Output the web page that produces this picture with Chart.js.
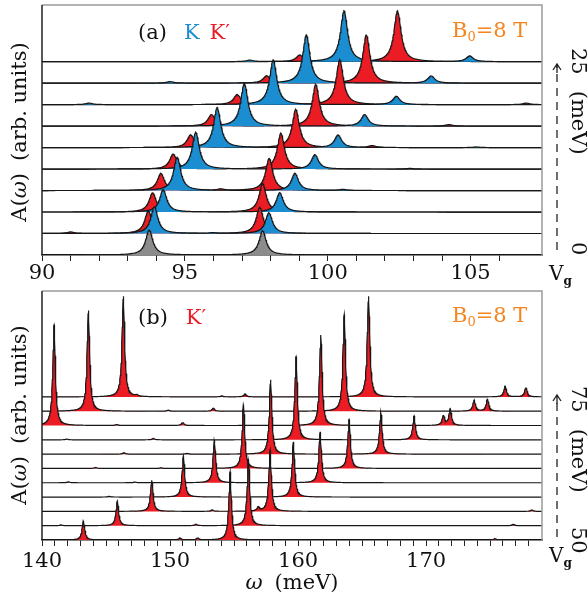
<!DOCTYPE html>
<html>
<head>
<meta charset="utf-8">
<script src="https://cdn.jsdelivr.net/npm/chart.js@4.4.0/dist/chart.umd.min.js"></script>
<style>
    html, body { margin: 0; padding: 0; background: #fff; }
    #wrap { position: relative; width: 588px; height: 601px; }
    #wrap canvas { position: absolute; left: 0; }
</style>
</head>
<body>
<div id="wrap">
    <canvas id="chart-a" width="588" height="290" style="top:0"></canvas>
    <canvas id="chart-b" width="588" height="316" style="top:285px"></canvas>
</div>
<script>
// ---- panel (a): rows from Vg = 0 (bottom) to Vg = 25 meV (top) ----
const rangeA = [90, 107.5];
const grayPos = [93.75, 97.72];            // Vg = 0, K and K' degenerate
const grayAmp = [1.16, 1.12];
const kPos = [
    [], [93.93, 97.94, 95.98], [94.24, 98.32], [94.73, 98.85, 100.53], [95.38, 99.55, 102.87],
    [96.13, 100.36, 105.2], [97.08, 101.29], [98.09, 102.4, 91.65], [99.25, 103.62, 94.48], [100.57, 104.97, 97.27]
];
const kAmp = [
    [], [1.24, 0.96, 0.03], [1.04, 0.90], [1.55, 0.80, 0.05], [1.71, 0.67, 0.03],
    [1.87, 0.59, 0.03], [2.0, 0.54], [2.09, 0.39, 0.07], [2.25, 0.34, 0.07], [2.37, 0.27, 0.07]
];
const kpPos = [
    [], [93.72, 97.62, 91.0], [93.87, 97.72], [94.16, 97.95, 96.25], [94.59, 98.36],
    [95.2, 98.88, 101.56], [95.93, 99.58, 104.24], [96.83, 100.42, 106.95], [97.86, 101.35], [99.02, 102.44]
];
const kpAmp = [
    [], [1.06, 1.21, 0.07], [0.90, 1.32], [0.80, 1.50, 0.07], [0.70, 1.67],
    [0.59, 1.78, 0.09], [0.54, 1.94, 0.07], [0.47, 2.09, 0.07], [0.34, 2.25], [0.31, 2.37]
];

// ---- panel (b): K' only, rows from Vg = 50 (bottom) to Vg = 75 meV (top) ----
const rangeB = [140, 179.05];
const bPos = [
    [143.23, 154.69, 150.78, 152.16, 175.39],
    [145.88, 156.12, 152.03, 176.82, 141.48],
    [148.57, 157.81, 153.3, 156.9, 178.26],
    [151.04, 159.63, 145.26],
    [153.46, 161.72, 142.06, 147.27],
    [155.73, 163.98, 144.19, 149.3],
    [157.85, 166.46, 146.4, 151.35],
    [159.84, 169.06, 141.93, 148.7],
    [140.94, 161.77, 171.35, 171.88, 145.83, 150.99],
    [143.62, 163.6, 173.75, 174.79, 149.87, 153.38],
    [146.35, 165.5, 176.17, 177.79, 147.4, 154.04, 155.86]
];
const bAmp = [
    [1.35, 4.77, 0.14, 0.14, 0.1],
    [1.72, 4.63, 0.1, 0.1, 0.05],
    [2.18, 4.28, 0.1, 0.28, 0.1],
    [2.86, 3.86, 0.05],
    [2.98, 3.56, 0.07, 0.05],
    [4.45, 3.42, 0.07, 0.05],
    [5.19, 2.9, 0.1, 0.05],
    [5.81, 1.67, 0.05, 0.1],
    [7.03, 6.33, 0.68, 1.14, 0.07, 0.21],
    [7.03, 6.75, 0.77, 0.84, 0.07, 0.21],
    [7.03, 7.03, 0.75, 0.65, 0.1, 0.07, 0.21]
];

const RED = '#ec1c24', BLUE = '#1b8ed1', GRAY = '#8c8c8c', ORANGE = '#f5861f';
const SERIF = '"DejaVu Serif", serif';

function omegaGrid(lo, hi, step, peaks) {
    const xs = [];
    for (let x = lo; x <= hi + 1e-9; x += step) xs.push(+x.toFixed(4));
    peaks.forEach(p => xs.push(p));
    return xs.sort((a, b) => a - b);
}

// sum of Lorentzians sitting on the row baseline
function spectrum(xs, pos, amp, gam, base) {
    return xs.map(x => {
        let y = base;
        pos.forEach((p, i) => {
            const d = x - p;
            y += amp[i] * gam * gam / (d * d + gam * gam);
        });
        return { x: x, y: y };
    });
}

function trace(xs, pos, amp, gam, base, color) {
    return {
        data: spectrum(xs, pos, amp, gam, base),
        backgroundColor: color,
        fill: { value: base },
        borderColor: '#161616',
        borderWidth: 1.2,
        pointRadius: 0,
        tension: 0
    };
}

// lower rows first so they are drawn on top
const dataA = [];
for (let r = 0; r < kPos.length; r++) {
    if (r === 0) {
        dataA.push(trace(omegaGrid(rangeA[0], rangeA[1], 0.02, grayPos), grayPos, grayAmp, 0.15, 0, GRAY));
        continue;
    }
    dataA.push(trace(omegaGrid(rangeA[0], rangeA[1], 0.02, kPos[r]), kPos[r], kAmp[r], 0.15, r, BLUE));
    dataA.push(trace(omegaGrid(rangeA[0], rangeA[1], 0.02, kpPos[r]), kpPos[r], kpAmp[r], 0.15, r, RED));
}
const dataB = bPos.map((pos, r) =>
    trace(omegaGrid(rangeB[0], rangeB[1], 0.03, pos), pos, bAmp[r], 0.12, r, RED));

function drawParts(ctx, parts, x, y) {
    parts.forEach(p => {
        ctx.font = p.font;
        ctx.fillStyle = p.color || '#111';
        ctx.fillText(p.t, x, y + (p.dy || 0));
        x += ctx.measureText(p.t).width + (p.gap || 0);
    });
}

function rotated(ctx, parts, cx, cy, angle, align) {
    ctx.save();
    ctx.translate(cx, cy);
    ctx.rotate(angle);
    let w = 0;
    parts.forEach(p => { ctx.font = p.font; w += ctx.measureText(p.t).width + (p.gap || 0); });
    ctx.textBaseline = 'middle';
    drawParts(ctx, parts, align === 'center' ? -w / 2 : 0, 0);
    ctx.restore();
}

function frame(chart) {
    const { ctx, chartArea: a } = chart;
    ctx.save();
    ctx.lineWidth = 1.5;
    ctx.strokeStyle = '#9a9a9a';
    ctx.beginPath();
    ctx.moveTo(a.left, a.top); ctx.lineTo(a.right, a.top); ctx.lineTo(a.right, a.bottom);
    ctx.stroke();
    ctx.strokeStyle = '#222';
    ctx.beginPath();
    ctx.moveTo(a.left, a.top); ctx.lineTo(a.left, a.bottom);
    ctx.stroke();
    ctx.restore();
}

function vgAxis(ctx, x, yTop, yBot) {
    ctx.save();
    ctx.strokeStyle = '#222';
    ctx.lineWidth = 1.3;
    ctx.setLineDash([8, 6]);
    ctx.beginPath(); ctx.moveTo(x, yBot); ctx.lineTo(x, yTop + 2); ctx.stroke();
    ctx.setLineDash([]);
    ctx.beginPath();
    ctx.moveTo(x - 4, yTop + 6); ctx.lineTo(x, yTop); ctx.lineTo(x + 4, yTop + 6);
    ctx.moveTo(x, yTop); ctx.lineTo(x, yTop + 9);
    ctx.stroke();
    ctx.restore();
}

const f21 = '21px ' + SERIF, f21i = 'italic 21px ' + SERIF, f13 = '13px ' + SERIF;
const yTitle = [
    { t: 'A(', font: f21 }, { t: 'ω', font: f21i }, { t: ')', font: f21, gap: 12 },
    { t: '(arb. units)', font: f21 }
];
const bField = [
    { t: 'B', font: f21, color: ORANGE }, { t: '0', font: f13, color: ORANGE, dy: 4 },
    { t: '=8 T', font: f21, color: ORANGE }
];
const vgLabel = [{ t: 'V', font: '20px ' + SERIF }, { t: 'g', font: 'bold 12px ' + SERIF, dy: 5 }];

const decorA = {
    id: 'decorA',
    afterDraw(chart) {
        const ctx = chart.ctx;
        frame(chart);
        ctx.save();
        ctx.textBaseline = 'alphabetic';
        drawParts(ctx, [{ t: '(a)', font: f21, gap: 17 }, { t: 'K', font: f21, color: BLUE, gap: 10 },
            { t: 'K′', font: f21, color: RED }], 138, 39);
        drawParts(ctx, bField, 452, 37);
        drawParts(ctx, vgLabel, 549, 280);
        ctx.restore();
        rotated(ctx, yTitle, 21, 132, -Math.PI / 2, 'center');
        rotated(ctx, [{ t: '25', font: f21, gap: 16 }, { t: '(meV)', font: f21 }], 577, 48, Math.PI / 2, 'start');
        rotated(ctx, [{ t: '0', font: f21 }], 577, 242, Math.PI / 2, 'start');
        vgAxis(ctx, 557, 64, 250);
    }
};

const decorB = {
    id: 'decorB',
    afterDraw(chart) {
        const ctx = chart.ctx;
        frame(chart);
        ctx.save();
        ctx.textBaseline = 'alphabetic';
        drawParts(ctx, [{ t: '(b)', font: f21, gap: 18 }, { t: 'K′', font: f21, color: RED }], 138, 39);
        drawParts(ctx, bField, 452, 37);
        drawParts(ctx, vgLabel, 549, 277);
        ctx.textAlign = 'left';
        const xt = [{ t: 'ω', font: f21i, gap: 12 }, { t: '(meV)', font: f21 }];
        let w = 0;
        xt.forEach(p => { ctx.font = p.font; w += ctx.measureText(p.t).width + (p.gap || 0); });
        drawParts(ctx, xt, 292 - w / 2, 304);
        ctx.restore();
        rotated(ctx, yTitle, 21, 130, -Math.PI / 2, 'center');
        rotated(ctx, [{ t: '75', font: f21, gap: 16 }, { t: '(meV)', font: f21 }], 577, 101, Math.PI / 2, 'start');
        rotated(ctx, [{ t: '50', font: f21 }], 577, 242, Math.PI / 2, 'start');
        vgAxis(ctx, 557, 110, 252);
    }
};

function options(range, yMax, pad, axisH, every, tickPad) {
    return {
        responsive: false,
        animation: false,
        events: [],
        layout: { padding: pad },
        plugins: { legend: { display: false }, tooltip: { enabled: false } },
        scales: {
            x: {
                type: 'linear',
                min: range[0],
                max: range[1],
                afterBuildTicks: s => { s.ticks = s.ticks.filter(t => Number.isInteger(t.value)); },
                afterFit: s => { s.height = axisH; },
                ticks: {
                    stepSize: 1,
                    autoSkip: false,
                    maxRotation: 0,
                    padding: tickPad,
                    color: '#111',
                    font: { family: SERIF, size: 21 },
                    callback: v => (v % every === 0 ? String(v) : '')
                },
                grid: { drawOnChartArea: false, tickLength: 6, color: '#222', lineWidth: 1 },
                border: { color: '#111', width: 1.5 }
            },
            y: { display: false, min: 0, max: yMax }
        }
    };
}

new Chart(document.getElementById('chart-a').getContext('2d'), {
    type: 'line',
    data: { datasets: dataA },
    options: options(rangeA, 11.64, { left: 42, right: 46, top: 5, bottom: 0 }, 35, 5, 0),
    plugins: [decorA]
});

new Chart(document.getElementById('chart-b').getContext('2d'), {
    type: 'line',
    data: { datasets: dataB },
    options: options(rangeB, 17.4, { left: 42, right: 46, top: 6, bottom: 0 }, 61, 10, 3),
    plugins: [decorB]
});
</script>
</body>
</html>
